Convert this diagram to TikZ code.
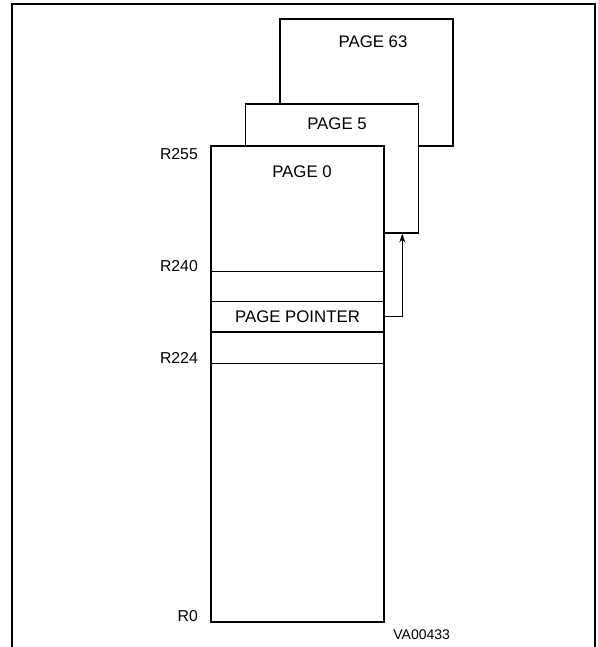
\documentclass[tikz,border=0pt]{standalone}
\usepackage{fontspec}
\setmainfont{Liberation Sans}
\usetikzlibrary{arrows.meta,positioning}
\definecolor{ink}{HTML}{000000}
\tikzset{
  >=Stealth,
  every node/.style={text=ink},
  frame/.style={draw=ink,line width=2.4pt},
  page/.style={draw=ink,line width=1.5pt,fill=white,minimum width=173pt,inner sep=0pt},
  row/.style={draw=ink,line width=1.4pt,minimum width=173pt,minimum height=30pt,inner sep=0pt,font=\fontsize{16.8}{18}\selectfont},
  title/.style={font=\fontsize{16.8}{18}\selectfont,inner sep=0pt},
  reg/.style={font=\fontsize{15.8}{18}\selectfont,anchor=base east,inner sep=0pt},
  tag/.style={font=\fontsize{14}{16}\selectfont,inner sep=0pt},
  ptrarrow/.style={draw=ink,line width=1.4pt,arrows={-Stealth[length=9pt,width=6pt]}},
}

\begin{document}
\begin{tikzpicture}[x=1pt,y=-1pt]
\useasboundingbox (0,0) rectangle (597,647);

% outer frame, open at the bottom
\draw[frame] (12,647) -- (12,4) -- (595,4) -- (595,647);

% stacked pages
\node[page,minimum height=127pt] (p63) at (366.5,82.5) {};
\node[title] (t63) at (373,42) {PAGE 63};
\node[page,minimum height=129pt] (p5) at (332,168.5) {};
\node[title] (t5) at (337,124) {PAGE 5};
\node[page,minimum height=476pt] (p0) at (297.5,384) {};
\node[title] (t0) at (302,172) {PAGE 0};

% register rows in page 0
\node[row] (r240) at (297.5,286.7) {};
\node[row,minimum height=31.6pt] (r224) at (297.5,347.5) {};
\node[row] (ptr) at (297.5,316.7) {PAGE POINTER};
\draw[ink,line width=2pt] (ptr.south west) -- (ptr.south east);

% register numbers
\node[reg] (l255) at (198,159.5) {R255};
\node[reg] (l240) at (198,271.7) {R240};
\node[reg] (l224) at (198,363.3) {R224};
\node[reg] (l0) at (198,621.7) {R0};

% page pointer selects a page
\coordinate (hook) at (402.3,233.5);
\draw[ptrarrow] (ptr.east) -| (hook);

\node[tag] (id) at (421.7,635) {VA00433};

\end{tikzpicture}
\end{document}
